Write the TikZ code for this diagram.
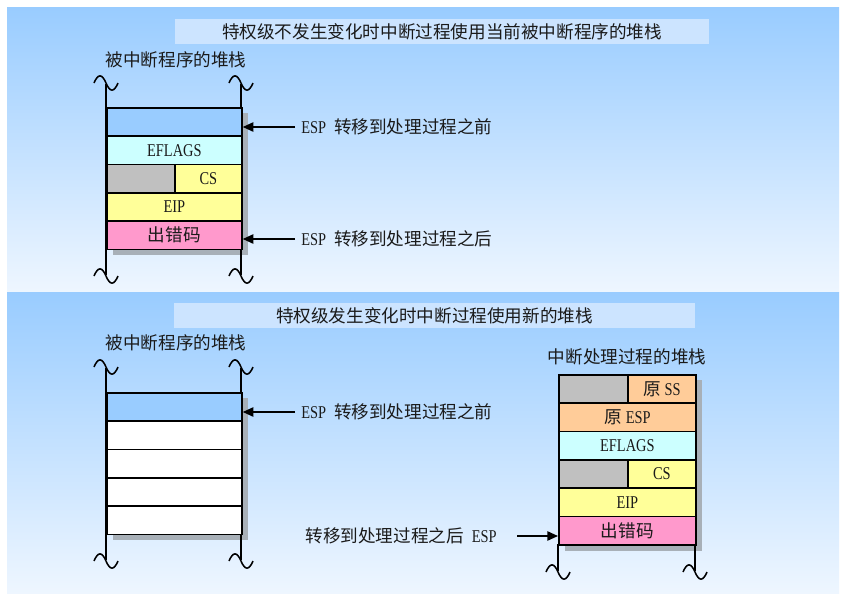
\documentclass[tikz,border=0pt]{standalone}
\usepackage{fontspec}
\setmainfont{Liberation Serif}[FakeStretch=0.8]
\newfontfamily\cjk{Noto Sans CJK SC}
\usetikzlibrary{arrows.meta,calc}
\definecolor{panelTop}{HTML}{99CCFF}
\definecolor{panelBot}{HTML}{EEF6FF}
\definecolor{titleBg}{HTML}{CCE4FF}
\definecolor{cBlue}{HTML}{99CCFF}
\definecolor{cCyan}{HTML}{CCFFFF}
\definecolor{cGray}{HTML}{C0C0C0}
\definecolor{cYel}{HTML}{FFFF99}
\definecolor{cPink}{HTML}{FF99CC}
\definecolor{cOrg}{HTML}{FFCC99}
\definecolor{cShadow}{HTML}{A8B0B8}
\definecolor{ink}{HTML}{1A1A1A}
\newcommand\wavemark[2]{\draw[wavestyle] ({#1-12},{#2}) .. controls ({#1-8},{#2-9.5}) and ({#1-4},{#2-9.5}) .. ({#1},{#2}) .. controls ({#1+4},{#2+9.5}) and ({#1+8},{#2+9.5}) .. ({#1+12},{#2});}
\newcommand\latsize{\fontsize{13.5}{15}\selectfont}
\newcommand\cjksize{\fontsize{13.2}{15}\selectfont}
\begin{document}
\begin{tikzpicture}[x=0.75pt,y=-0.75pt,
  cell/.style={draw=black, line width=1.3pt, anchor=north west, inner sep=0pt,
    minimum height=21.225pt, font=\latsize, text=ink},
  fullL/.style={cell, minimum width=101.25pt},
  halfLa/.style={cell, minimum width=51pt},
  halfLb/.style={cell, minimum width=50.25pt},
  fullR/.style={cell, minimum width=102.75pt},
  halfRa/.style={cell, minimum width=51.75pt},
  halfRb/.style={cell, minimum width=51pt},
  shadowbox/.style={fill=cShadow, draw=none},
  rail/.style={draw=black, line width=1pt},
  wavestyle/.style={draw=black, line width=1.15pt},
  cjklabel/.style={font=\cjksize\cjk, text=ink, inner sep=0pt},
  esplabel/.style={font=\latsize, text=ink, inner xsep=4.5pt, inner ysep=0pt},
  titlebox/.style={fill=titleBg, draw=none, inner sep=0pt, minimum height=18.75pt,
    font=\cjksize\cjk, text=ink},
  ptr/.style={draw=black, line width=1.2pt, -{Triangle[length=8pt,width=7pt]}}
]
\useasboundingbox (0,0) rectangle (847,597);
\fill[white] (0,0) rectangle (847,597);
% panels
\shade[top color=panelTop, bottom color=panelBot] (7,7) rectangle (839,292);
\shade[top color=panelTop, bottom color=panelBot] (7,292) rectangle (839,593);

% ===== top panel =====
\node[titlebox, minimum width=400.5pt] (title1) at (442,31.5) {特权级不发生变化时中断过程使用当前被中断程序的堆栈};
\node[cjklabel] (cap1) at (176,60) {被中断程序的堆栈};

\fill[shadowbox] (113,113) rectangle (248,255);
\coordinate (tl1) at (106,84); \coordinate (tl2) at (106,275);
\coordinate (tr1) at (241,84); \coordinate (tr2) at (241,275);
\draw[rail] (tl1) -- (tl2);
\draw[rail] (tr1) -- (tr2);
\wavemark{106}{83}\wavemark{241}{83}\wavemark{106}{276}\wavemark{241}{276}

\node[fullL, fill=cBlue] (t1) at (106,107) {};
\node[fullL, fill=cCyan] (t2) at (106,135.3) {EFLAGS};
\node[halfLa, fill=cGray] (t3a) at (106,163.6) {};
\node[halfLb, fill=cYel] (t3b) at (174,163.6) {CS};
\node[fullL, fill=cYel] (t4) at (106,191.9) {EIP};
\node[fullL, fill=cPink, font=\cjksize\cjk] (t5) at (106,220.2) {出错码};

\node[esplabel, anchor=west] (l1) at (295,127) {ESP\hspace{6pt}{\cjk\cjksize 转移到处理过程之前}};
\node[esplabel, anchor=west] (l2) at (295,239) {ESP\hspace{6pt}{\cjk\cjksize 转移到处理过程之后}};
\draw[ptr] (l1.west) -- (l1.west -| t1.east);
\draw[ptr] (l2.west) -- (l2.west -| t5.east);

% ===== bottom panel =====
\node[titlebox, minimum width=390.75pt] (title2) at (434.5,315.5) {特权级发生变化时中断过程使用新的堆栈};
\node[cjklabel] (cap2) at (176,343) {被中断程序的堆栈};
\node[cjklabel] (cap3) at (627,357) {中断处理过程的堆栈};

% left stack
\fill[shadowbox] (113,398) rectangle (248,539.5);
\coordinate (bl1) at (106,368); \coordinate (bl2) at (106,560);
\coordinate (br1) at (241,368); \coordinate (br2) at (241,560);
\draw[rail] (bl1) -- (bl2);
\draw[rail] (br1) -- (br2);
\wavemark{106}{367}\wavemark{241}{367}\wavemark{106}{561}\wavemark{241}{561}

\node[fullL, fill=cBlue] (b1) at (106,392) {};
\node[fullL, fill=white] (b2) at (106,420.3) {};
\node[fullL, fill=white] (b3) at (106,448.6) {};
\node[fullL, fill=white] (b4) at (106,476.9) {};
\node[fullL, fill=white] (b5) at (106,505.2) {};

\node[esplabel, anchor=west] (l3) at (295,412) {ESP\hspace{6pt}{\cjk\cjksize 转移到处理过程之前}};
\draw[ptr] (l3.west) -- (l3.west -| b1.east);

% right stack
\fill[shadowbox] (565,380) rectangle (702,551);
\coordinate (rl1) at (558,544); \coordinate (rl2) at (558,571);
\coordinate (rr1) at (695,544); \coordinate (rr2) at (695,571);
\draw[rail] (rl1) -- (rl2);
\draw[rail] (rr1) -- (rr2);
\wavemark{558}{572}\wavemark{695}{572}

\node[halfRa, fill=cGray] (r1a) at (558,374) {};
\node[halfRb, fill=cOrg] (r1b) at (627,374) {{\cjk\cjksize 原}\hspace{3pt}SS};
\node[fullR, fill=cOrg] (r2) at (558,402.3) {{\cjk\cjksize 原}\hspace{3pt}ESP};
\node[fullR, fill=cCyan] (r3) at (558,430.6) {EFLAGS};
\node[halfRa, fill=cGray] (r4a) at (558,458.9) {};
\node[halfRb, fill=cYel] (r4b) at (627,458.9) {CS};
\node[fullR, fill=cYel] (r5) at (558,487.2) {EIP};
\node[fullR, fill=cPink, font=\cjksize\cjk] (r6) at (558,515.5) {出错码};

\node[esplabel, anchor=east] (l4) at (503,536) {{\cjk\cjksize 转移到处理过程之后}\hspace{6pt}ESP};
\draw[ptr] ([xshift=10.5pt]l4.east) -- (l4.east -| r6.west);
\end{tikzpicture}
\end{document}
